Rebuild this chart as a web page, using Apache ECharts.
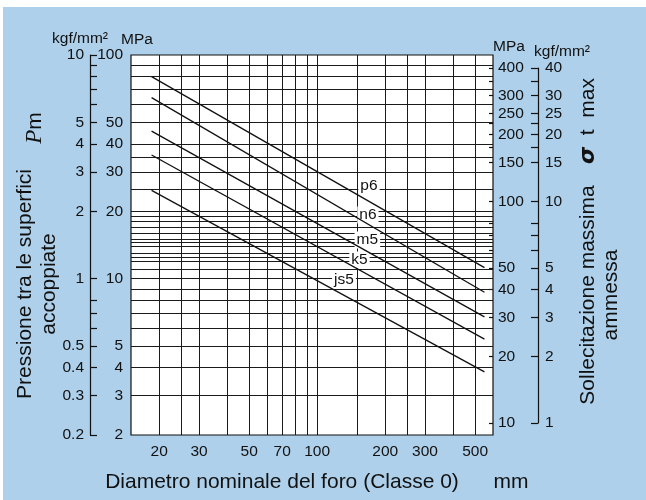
<!DOCTYPE html>
<html><head><meta charset="utf-8">
<script src="https://cdn.jsdelivr.net/npm/echarts@6/dist/echarts.min.js"></script>
<style>html,body{margin:0;padding:0;background:#fff}#c{width:646px;height:500px}</style>
</head><body><div id="c"></div>
<script>
// ---- data ----
const lineNames = ['p6', 'n6', 'm5', 'k5', 'js5'];
const lineX = [18.5, 550];            // nominal diameter (mm) at line start / end
const p6 = [80, 11.2];                 // MPa at start / end
const n6 = [64.5, 8.7];
const m5 = [45.7, 6.75];
const k5 = [35.7, 5.37];
const js5 = [24.8, 3.83];
const labelX = [169.5, 167.7, 166.8, 153.9, 131.4];
const labelY = [25.97, 19.27, 14.89, 12.12, 9.86];

const xLabels = [20, 30, 50, 70, 100, 200, 300, 500];
const xGrid = [20, 25, 30, 40, 50, 60, 70, 80, 90, 100, 150, 200, 250, 300, 400, 500];
const yGrid = [90, 80, 70, 60, 50, 40, 35, 30, 25, 20, 19, 18, 17, 16, 15, 14.5, 14, 13, 12.5, 12, 11, 10, 9, 8, 7, 6, 5, 4, 3];

const leftMPaTicks = [100, 90, 80, 70, 60, 50, 40, 30, 20, 10, 8, 7, 6, 5, 4, 3, 2];
const leftMPaLabels = [100, 50, 40, 30, 20, 10, 5, 4, 3, 2];
const leftKgfLabels = [10, 5, 4, 3, 2, 1, 0.5, 0.4, 0.3, 0.2];
const rightMPaTicks = [400, 350, 300, 250, 225, 200, 175, 150, 100, 80, 70, 60, 50, 40, 30, 20, 10];
const rightMPaLabels = [400, 300, 250, 200, 150, 100, 50, 40, 30, 20, 10];
const rightKgfTicks = [40, 35, 30, 25, 22.5, 20, 17.5, 15, 10, 8, 7, 6, 5, 4, 3, 2, 1];
const rightKgfLabels = [40, 30, 25, 20, 15, 10, 5, 4, 3, 2, 1];

// ---- chart ----
const FONT = 'Liberation Sans, Arial, Helvetica, sans-serif';
const INK = '#111';
const fmt = v => String(+(+v).toPrecision(6));
const lineData = [p6, n6, m5, k5, js5];

const chart = echarts.init(document.getElementById('c'), null, {renderer: 'canvas'});
const tickLabel = {fontFamily: FONT, fontSize: 15.5, color: INK, formatter: fmt};

const series = [];
series.push({
  type: 'line', xAxisIndex: 0, yAxisIndex: 0, data: [], silent: true, z: 1,
  markLine: {
    z: 1, silent: true, symbol: ['none', 'none'], label: {show: false},
    lineStyle: {color: '#1a1a1a', width: 1, type: 'solid'}, animation: false,
    emphasis: {disabled: true},
    data: xGrid.map(v => ({xAxis: v})).concat(yGrid.map(v => ({yAxis: v})))
  }
});
series.push({
  type: 'scatter', xAxisIndex: 0, yAxisIndex: 0, z: 4, zlevel: 0, silent: true,
  symbol: 'rect', symbolSize: 1, itemStyle: {color: '#ffffff', opacity: 1},
  data: lineNames.map((n, i) => ({name: n, value: [labelX[i], labelY[i]]})),
  label: {show: true, position: 'inside', formatter: '{b}', fontFamily: FONT, fontSize: 15.5,
    color: INK, backgroundColor: '#ffffff', padding: [1, 2, 0, 2]}
});
lineNames.forEach((n, i) => {
  series.push({
    type: 'line', name: n, xAxisIndex: 0, yAxisIndex: 0, z: 6, silent: true,
    showSymbol: false, symbol: 'none',
    lineStyle: {color: INK, width: 1.3},
    data: [[lineX[0], lineData[i][0]], [lineX[1], lineData[i][1]]]
  });
});

const option = {
  animation: false,
  backgroundColor: '#aed0ea',
  grid: [
    {left: 131, right: 153, top: 55, bottom: 65, show: true, backgroundColor: '#fff', borderColor: INK, borderWidth: 1.2},
    {left: 131, right: 153, top: 68, bottom: 77, show: false}
  ],
  xAxis: [
    {gridIndex: 0, type: 'log', logBase: 10, min: 15, max: 600,
     axisLine: {show: false}, axisTick: {show: false}, splitLine: {show: false}, minorSplitLine: {show: false},
     axisLabel: Object.assign({}, tickLabel, {customValues: xLabels, margin: 9})},
    {gridIndex: 1, type: 'log', logBase: 10, min: 15, max: 600, show: false}
  ],
  yAxis: [
    {gridIndex: 0, type: 'log', logBase: 10, min: 2, max: 100, position: 'left', offset: 41,
     axisLine: {show: true, lineStyle: {color: INK, width: 1.2}},
     axisTick: {show: true, inside: true, length: 7, customValues: leftMPaTicks, lineStyle: {color: INK, width: 1.2}},
     splitLine: {show: false},
     axisLabel: Object.assign({}, tickLabel, {customValues: leftMPaLabels, inside: true, align: 'right', margin: 33})},
    {gridIndex: 0, type: 'log', logBase: 10, min: 0.2, max: 10, position: 'left', offset: 41,
     axisLine: {show: false}, axisTick: {show: false}, splitLine: {show: false},
     axisLabel: Object.assign({}, tickLabel, {customValues: leftKgfLabels, margin: 6})},
    {gridIndex: 1, type: 'log', logBase: 10, min: 10, max: 400, position: 'right', offset: 0,
     axisLine: {show: false},
     axisTick: {show: true, inside: true, length: 4, customValues: rightMPaTicks, lineStyle: {color: INK, width: 1.2}},
     splitLine: {show: false},
     axisLabel: Object.assign({}, tickLabel, {customValues: rightMPaLabels, margin: 5})},
    {gridIndex: 1, type: 'log', logBase: 10, min: 1, max: 40, position: 'right', offset: 45,
     axisLine: {show: true, lineStyle: {color: INK, width: 1.2}},
     axisTick: {show: true, inside: true, length: 7, customValues: rightKgfTicks, lineStyle: {color: INK, width: 1.2}},
     splitLine: {show: false},
     axisLabel: Object.assign({}, tickLabel, {customValues: rightKgfLabels, margin: 7})}
  ],
  series: series,
  graphic: [
    {type: 'rect', shape: {x: 0, y: 0, width: 646, height: 7}, style: {fill: '#fff'}, silent: true},
    {type: 'rect', shape: {x: 0, y: 0, width: 3, height: 500}, style: {fill: '#fff'}, silent: true},
    {type: 'text', x: 80, y: 39, style: {text: 'kgf/mm²', font: '15.5px ' + FONT, fill: INK, textAlign: 'center', textVerticalAlign: 'middle'}},
    {type: 'text', x: 137, y: 40, style: {text: 'MPa', font: '15.5px ' + FONT, fill: INK, textAlign: 'center', textVerticalAlign: 'middle'}},
    {type: 'text', x: 509, y: 47, style: {text: 'MPa', font: '15.5px ' + FONT, fill: INK, textAlign: 'center', textVerticalAlign: 'middle'}},
    {type: 'text', x: 562, y: 52, style: {text: 'kgf/mm²', font: '15.5px ' + FONT, fill: INK, textAlign: 'center', textVerticalAlign: 'middle'}},
    {type: 'text', x: 282, y: 482, style: {text: 'Diametro nominale del foro (Classe 0)', font: '21px ' + FONT, fill: INK, textAlign: 'center', textVerticalAlign: 'middle'}},
    {type: 'text', x: 511, y: 482, style: {text: 'mm', font: '21px ' + FONT, fill: INK, textAlign: 'center', textVerticalAlign: 'middle'}},
    {type: 'text', x: 25, y: 284, rotation: Math.PI / 2, style: {text: 'Pressione tra le superfici', font: '21px ' + FONT, fill: INK, textAlign: 'center', textVerticalAlign: 'middle'}},
    {type: 'text', x: 49, y: 284, rotation: Math.PI / 2, style: {text: 'accoppiate', font: '21px ' + FONT, fill: INK, textAlign: 'center', textVerticalAlign: 'middle'}},
    {type: 'text', x: 35, y: 128, rotation: Math.PI / 2, style: {text: '{p|P}m', font: '21px ' + FONT, fill: INK, textAlign: 'center', textVerticalAlign: 'middle',
      rich: {p: {fontFamily: 'Liberation Serif, serif', fontStyle: 'italic', fontSize: 23, fill: INK}}}},
    {type: 'text', x: 588, y: 295, rotation: Math.PI / 2, style: {text: 'Sollecitazione massima', font: '21px ' + FONT, fill: INK, textAlign: 'center', textVerticalAlign: 'middle'}},
    {type: 'text', x: 611, y: 295, rotation: Math.PI / 2, style: {text: 'ammessa', font: '21px ' + FONT, fill: INK, textAlign: 'center', textVerticalAlign: 'middle'}},
    {type: 'text', x: 588, y: 121, rotation: Math.PI / 2, style: {text: '{s|σ}  t  max', font: '21px ' + FONT, fill: INK, textAlign: 'center', textVerticalAlign: 'middle',
      rich: {s: {fontFamily: 'DejaVu Sans, sans-serif', fontStyle: 'italic', fontWeight: 'bold', fontSize: 22, fill: INK}}}}
  ]
};
chart.setOption(option);
</script>
</body></html>
